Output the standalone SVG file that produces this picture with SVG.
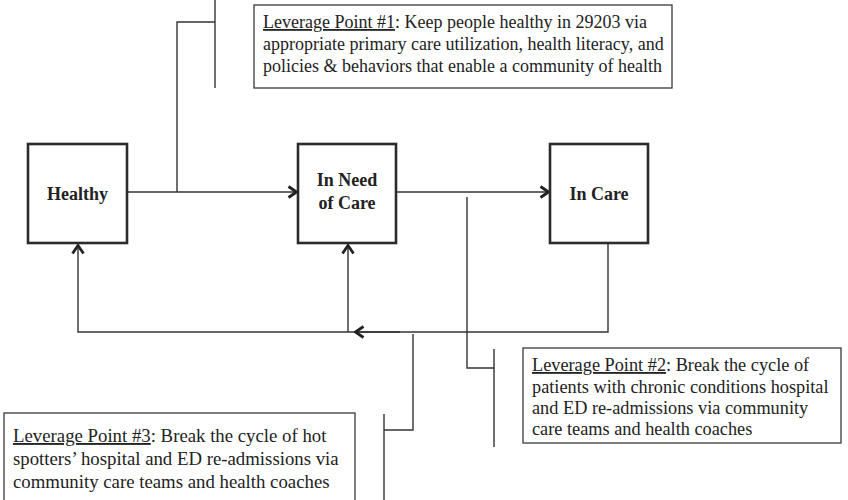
<svg xmlns="http://www.w3.org/2000/svg" width="848" height="500" viewBox="0 0 848 500">
  <style>
    .state { fill: #ffffff; stroke: #2b2b2b; stroke-width: 2.6; }
    .note { fill: #ffffff; stroke: #3a3a3a; stroke-width: 1.3; }
    .wire { fill: none; stroke: #333333; stroke-width: 1.4; }
    .label { font-family: "Liberation Serif", "Times New Roman", serif; font-weight: bold; font-size: 18px; fill: #222222; text-anchor: middle; }
    .body { font-family: "Liberation Serif", "Times New Roman", serif; font-size: 18px; fill: #222222; }
    .ul { text-decoration: underline; }
  </style>
  <defs>
    <marker id="chev" viewBox="0 0 11 14" refX="10" refY="7" markerWidth="11" markerHeight="14" markerUnits="userSpaceOnUse" orient="auto">
      <path d="M1.5,1.5 L9.5,7 L1.5,12.5" fill="none" stroke="#222222" stroke-width="2.8"/>
    </marker>
  </defs>

  <rect width="848" height="500" fill="#ffffff"/>

  <!-- connectors -->
  <g id="connectors" class="wire">
    <!-- forward flow -->
    <line x1="128" y1="192" x2="297" y2="192" marker-end="url(#chev)"/>
    <line x1="396" y1="192" x2="549" y2="192" marker-end="url(#chev)"/>
    <!-- return loop -->
    <polyline points="608,243 608,332 348,332"/>
    <line x1="400" y1="332" x2="355" y2="332" marker-end="url(#chev)"/>
    <polyline points="348,332 78,332 78,245" marker-end="url(#chev)"/>
    <line x1="348" y1="332" x2="348" y2="245" marker-end="url(#chev)"/>
    <!-- leverage point 1 bracket -->
    <polyline points="177,192 177,22 215,22"/>
    <line x1="215" y1="0" x2="215" y2="88"/>
    <!-- leverage point 2 bracket -->
    <polyline points="467,197 467,368 494,368"/>
    <line x1="494" y1="349" x2="494" y2="447"/>
    <!-- leverage point 3 bracket -->
    <polyline points="413,334 413,430 384,430"/>
    <line x1="384" y1="414" x2="384" y2="500"/>
  </g>

  <!-- state nodes -->
  <g id="healthy">
    <rect class="state" x="28" y="144" width="99" height="99"/>
    <text class="label" x="77.5" y="200">Healthy</text>
  </g>
  <g id="in-need-of-care">
    <rect class="state" x="298" y="144" width="98" height="99"/>
    <text class="label" x="347" y="186">In Need</text>
    <text class="label" x="347" y="209">of Care</text>
  </g>
  <g id="in-care">
    <rect class="state" x="550" y="144" width="98" height="99"/>
    <text class="label" x="599" y="200">In Care</text>
  </g>

  <!-- leverage point notes -->
  <g id="leverage-1">
    <rect class="note" x="254" y="5" width="418" height="83"/>
    <text class="body" x="263" y="28"><tspan class="ul">Leverage Point #1</tspan>: Keep people healthy in 29203 via</text>
    <text class="body" x="263" y="50">appropriate primary care utilization, health literacy, and</text>
    <text class="body" x="263" y="72">policies &amp; behaviors that enable a community of health</text>
  </g>
  <g id="leverage-2" style="font-size:18.3px">
    <rect class="note" x="523" y="348" width="318" height="95"/>
    <text class="body" x="532" y="371" style="font-size:18.3px"><tspan class="ul">Leverage Point #2</tspan>: Break the cycle of</text>
    <text class="body" x="532" y="393" style="font-size:18.3px">patients with chronic conditions hospital</text>
    <text class="body" x="532" y="414" style="font-size:18.3px">and ED re-admissions via community</text>
    <text class="body" x="532" y="435" style="font-size:18.3px">care teams and health coaches</text>
  </g>
  <g id="leverage-3">
    <rect class="note" x="4" y="413" width="351" height="100"/>
    <text class="body" x="13" y="442" style="font-size:18.8px"><tspan class="ul">Leverage Point #3</tspan>: Break the cycle of hot</text>
    <text class="body" x="13" y="465" style="font-size:18.8px">spotters’ hospital and ED re-admissions via</text>
    <text class="body" x="13" y="488" style="font-size:18.8px">community care teams and health coaches</text>
  </g>
</svg>
